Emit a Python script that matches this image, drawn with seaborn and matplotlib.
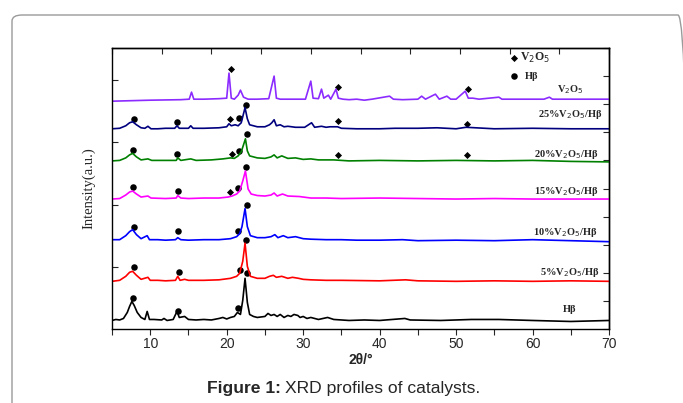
import numpy as np
import pandas as pd
import seaborn as sns
import matplotlib.pyplot as plt
from matplotlib.patches import FancyBboxPatch

# ---- data (intensity in a.u., 2theta in degrees) ----
samples = ["V2O5", "25%V2O5/Hb", "20%V2O5/Hb", "15%V2O5/Hb", "10%V2O5/Hb", "5%V2O5/Hb", "Hb"]
sample_labels = ["V$_2$O$_5$", "25%V$_2$O$_5$/Hβ", "20%V$_2$O$_5$/Hβ", "15%V$_2$O$_5$/Hβ",
                 "10%V$_2$O$_5$/Hβ", "5%V$_2$O$_5$/Hβ", "Hβ"]
offsets = [228, 199.5, 167.5, 129.5, 88, 47.5, 8.5]

v2o5_tt = [5, 10, 14, 15.1, 15.4, 15.7, 17, 19, 20.0, 20.3, 20.6, 21.0, 21.5, 21.8, 22.2, 22.8, 24,
           25.5, 26.2, 26.5, 27, 28, 29, 30.3, 31.0, 31.3, 32.0, 32.4, 32.7, 33.3, 33.6, 34.3, 34.6,
           35.2, 36, 37, 38, 39, 41.3, 41.8, 43, 45, 45.5, 46, 47.3, 47.8, 48.8, 49.3, 50, 51.2,
           51.6, 52.2, 53, 55.6, 56, 58, 61.5, 62.2, 62.6, 65, 70]
v2o5_int = [-1, 0, 0.5, 1, 8, 1, 1, 1.5, 2, 27, 2, 1, 5, 10, 3, 1, 1,
            1.5, 24, 2, 1, 1, 1, 1, 19, 2, 1.5, 11, 2, 5, 1, 11, 2,
            1, 0.5, 1, 0, 1, 4, 1, 0.5, 1, 4, 1, 6, 1, 4, 1, 1, 9,
            2, 2, 1, 3, 1, 1, 1, 3, 1, 1, 1]

v25_tt = [5, 6, 6.8, 7.3, 7.7, 8.2, 8.8, 9.3, 9.7, 10.1, 11, 12, 13.2, 13.5, 13.8, 15, 15.3, 15.6,
          17, 19, 20.0, 20.3, 20.6, 21.1, 21.5, 21.9, 22.2, 22.4, 22.7, 23.0, 24, 25, 25.6, 25.9,
          26.2, 26.5, 27, 27.5, 28, 29, 30.2, 31.1, 31.5, 32.4, 33, 33.5, 34.5, 35, 37, 40, 42,
          45, 47.5, 50, 51.3, 55, 60, 65, 70]
v25_int = [0, 0.5, 3, 6, 7, 4, 1, 0.5, 2.5, 0, 0, 0.5, 0.5, 3, 0.5, 0.5, 3, 0.5,
           0.5, 1, 2, 5, 3, 4, 3, 6, 15, 21, 10, 4, 2, 2, 4, 6,
           9, 3, 4, 2, 2.5, 1.5, 1.5, 6, 1.5, 2.5, 1.5, 2, 2, 0.5, 0, 0, 0.5,
           0.5, 1, 0, 1.5, 0, 0.5, 0, 0]

v20_tt = [5, 6, 6.8, 7.3, 7.7, 8.2, 8.8, 9.7, 10.2, 12, 13.4, 13.6, 14, 15.3, 16, 18, 19.5, 20.5,
          21, 21.5, 21.9, 22.2, 22.45, 22.7, 23, 24, 25, 25.8, 26.2, 26.6, 27.2, 28, 29, 30, 31,
          32, 34, 36, 40, 45, 50, 55, 60, 65, 70]
v20_int = [0, 0.5, 3, 6, 7.5, 4, 1, 2, 0.5, 0.5, 0.5, 3, 0.5, 2, 0.5, 1, 2, 3,
           2.5, 5, 9, 16, 22, 10, 5, 3, 2.5, 4, 6, 3, 5, 2.5, 3, 1.5, 2,
           1, 1, 0, 0.5, 0, 0.5, 0, 0.5, -0.5, -1]

v15_tt = [5, 6, 6.8, 7.3, 7.7, 8.2, 8.8, 9.7, 10.1, 12, 13.4, 13.6, 14, 15, 17, 19, 20.2, 20.7,
          21.3, 21.7, 22.1, 22.45, 22.8, 23.2, 24, 25, 25.8, 26.2, 26.6, 27.3, 28, 29.5, 31, 33,
          35, 40, 45, 50, 55, 60, 70]
v15_int = [0, 0.5, 4, 7, 8, 5, 2, 3, 1, 0.5, 1, 3.5, 1, 0.5, 1, 1, 2, 3,
           5, 8, 18, 28, 10, 5, 3.5, 3, 4, 6, 3, 5, 3, 2.5, 1, 1,
           0.5, 1, 0.5, 0, 0.5, 0, 0]

v10_tt = [5, 6, 6.8, 7.3, 7.7, 8.2, 8.8, 9.6, 9.9, 11, 12, 13.3, 13.6, 14, 15, 17, 19, 20.5,
          21.3, 21.7, 22.0, 22.4, 22.7, 23.1, 24, 25, 25.8, 26.3, 26.7, 27.4, 28, 29, 30, 31, 33,
          35, 37, 40, 43, 45, 50, 55, 60, 65, 70]
v10_int = [1, 1, 5, 9, 11, 6, 2, 5, 1, 1, 0.5, 1, 3, 1, 0.5, 1, 1, 2,
           4, 7, 14, 32, 14, 5, 3, 3, 4, 6, 3, 5, 3, 4, 2, 1.5, 1,
           1, 0.5, 0.5, 1, 0, 0.5, 0, 1, 0, -1]

v5_tt = [5, 6, 6.8, 7.3, 7.7, 8.2, 8.8, 9.7, 10, 11, 12, 13.3, 13.6, 13.9, 14.5, 15, 17, 19,
         20.5, 21.3, 21.7, 22.1, 22.4, 22.7, 23.1, 24, 25, 25.6, 26.1, 26.5, 27.2, 28, 28.6,
         29.4, 30, 31, 33, 35, 40, 43.4, 45, 50, 55, 60, 65, 70]
v5_int = [0, 1, 5, 9, 10, 6, 2, 4, 1, 1, 0.5, 1, 5, 1, 2, 1, 1, 1.5,
          3, 5, 8, 20, 38, 15, 5, 3, 3, 5, 6, 4, 5, 3, 4,
          3, 2, 1.5, 1, 1, 0.5, 1.5, 0.5, 0, 0.5, 0, 0.5, 0]

hb_tt = [5.0, 5.5, 6.0, 6.5, 7.0, 7.3, 7.6, 7.9, 8.3, 8.8, 9.3, 9.6, 9.9, 10.5, 11.5, 11.8, 12.2,
         13.0, 13.5, 13.8, 14.5, 15, 16, 17, 18, 19, 19.5, 20, 20.5, 21.0, 21.4, 21.8, 22.1, 22.4,
         22.7, 23.0, 23.5, 24, 25.0, 25.4, 25.8, 26.2, 26.6, 27.0, 27.5, 28.0, 28.4, 28.8, 29.3,
         29.6, 30, 30.5, 31, 32, 33.2, 34, 36, 38, 40, 43.3, 44, 48, 52, 55.6, 60, 65, 70]
hb_int = [0, 1, 0.5, 2, 8, 14, 19, 15, 8, 3, 1, 9, 1, 1, 0.5, 2, 0,
          1, 9, 3, 4, 1, 0.5, 1, 0.5, 2, 3, 1.5, 3, 4, 8, 6, 20, 42,
          18, 6, 4, 3, 4, 7, 5, 6, 4, 6, 3, 5, 4, 6, 5,
          3, 4, 2, 3, 1, 3, 1, 0, 0.5, 0, 2, 0.5, 0, 1, 1, 0, -1, 0]

curve_tt = [v2o5_tt, v25_tt, v20_tt, v15_tt, v10_tt, v5_tt, hb_tt]
curve_int = [v2o5_int, v25_int, v20_int, v15_int, v10_int, v5_int, hb_int]

# phase markers (2theta, stacked intensity)
hb_mark_tt = [7.88, 13.50, 21.57, 22.53, 7.71, 13.54, 21.65, 22.62, 7.79, 13.59, 21.52, 22.53,
              7.92, 13.67, 21.52, 22.62, 7.88, 13.76, 21.74, 22.53, 7.79, 13.59, 21.44, 22.62]
hb_mark_y = [209.7, 206, 210.3, 223.7, 178.7, 174.7, 177, 194.7, 141.3, 137.3, 140.3, 161.3,
             101.3, 97.3, 98, 124, 62, 56.3, 59, 89, 31.3, 18, 20.7, 55.7]
v_mark_tt = [20.52, 34.52, 51.5, 20.43, 34.6, 51.39, 20.65, 34.56, 51.43, 20.43]
v_mark_y = [259, 241, 239, 209, 207, 204.7, 174.7, 173, 173, 136.3]

colors = ["#8B2BFF", "#00007F", "#008000", "#FF00FF", "#0000FF", "#FF0000", "#000000"]

rows = []
for name, tt, inten, off in zip(samples, curve_tt, curve_int, offsets):
    for t, v in zip(tt, inten):
        rows.append({"sample": name, "two_theta": t, "intensity": v + off})
df = pd.DataFrame(rows)

sns.set_style("white")
plt.rcParams["font.family"] = ["Liberation Sans", "DejaVu Sans"]
serif = ["Liberation Serif", "DejaVu Serif"]

fig = plt.figure(figsize=(6.83, 4.03), dpi=100)
ax = fig.add_axes([112 / 683, 1 - 329 / 403, 497 / 683, 281 / 403])

sns.lineplot(data=df, x="two_theta", y="intensity", hue="sample", palette=colors,
             hue_order=samples, estimator=None, sort=False, legend=False, linewidth=1.2, ax=ax)

sns.scatterplot(x=hb_mark_tt, y=hb_mark_y, marker="o", s=22, color="black", linewidth=0, ax=ax)
sns.scatterplot(x=v_mark_tt, y=v_mark_y, marker="D", s=13, color="black", linewidth=0, ax=ax)

# curve labels
label_pos = [(64.9, 239), (64.9, 214), (64.4, 174), (64.4, 137), (64.3, 96), (64.9, 56), (64.9, 19)]
for lab, (lx, ly) in zip(sample_labels, label_pos):
    ax.text(lx, ly, lab, ha="center", va="center", fontsize=7.5, fontweight="bold", family=serif)

# key
ax.scatter([57.6], [270], marker="D", s=13, color="black", linewidth=0)
ax.text(58.3, 270, "V$_2$O$_5$", ha="left", va="center", fontsize=8.5, fontweight="bold",
        family=serif)
ax.scatter([57.6], [252], marker="o", s=22, color="black", linewidth=0)
ax.text(59.0, 252, "Hβ", ha="left", va="center", fontsize=7.5, fontweight="bold", family=serif)

ax.set_xlim(5, 70)
ax.set_ylim(0, 280)
ax.set_xticks([10, 20, 30, 40, 50, 60, 70])
ax.set_xticks([5, 15, 25, 35, 45, 55, 65], minor=True)
ax.tick_params(axis="x", which="both", direction="out", bottom=True, length=4, width=0.8,
               labelsize=10, pad=2)
ax.set_yticks([62, 124, 186, 248])
ax.tick_params(axis="y", direction="in", left=True, length=4, width=0.8, labelleft=False)

top = ax.secondary_xaxis("top")
top.set_xticks(np.arange(5, 70.1, 6.5))
top.tick_params(direction="in", length=4, width=0.8, labeltop=False)
right = ax.secondary_yaxis("right")
right.set_yticks(np.arange(0, 280.1, 28))
right.tick_params(direction="in", length=4, width=0.8, labelright=False)
for sp in list(ax.spines.values()) + [top.spines["top"], right.spines["right"]]:
    sp.set_color("black")
    sp.set_linewidth(1.0)

ax.set_xlabel("2θ/°", fontsize=10, fontweight="bold", labelpad=1)
ax.set_ylabel("Intensity(a.u.)", fontsize=10.5, family=serif, labelpad=12)

# outer frame and caption
frame = FancyBboxPatch((12 / 683, -0.05), 0.99, 1 - 15 / 403 + 0.05,
                       boxstyle="round,pad=0,rounding_size=0.015", transform=fig.transFigure,
                       facecolor="none", edgecolor="#9a9a9a", linewidth=1.0, clip_on=False)
fig.patches.append(frame)

cap_y = 1 - 388 / 403
t1 = fig.text(207 / 683, cap_y, "Figure 1:", ha="left", va="center", fontsize=12.6,
              fontweight="bold")
fig.canvas.draw()
bb = t1.get_window_extent(renderer=fig.canvas.get_renderer())
fig.text((bb.x1 + 4) / fig.bbox.width, cap_y, "XRD profiles of catalysts.", ha="left",
         va="center", fontsize=12.6)

fig.savefig("out.png", dpi=100)
